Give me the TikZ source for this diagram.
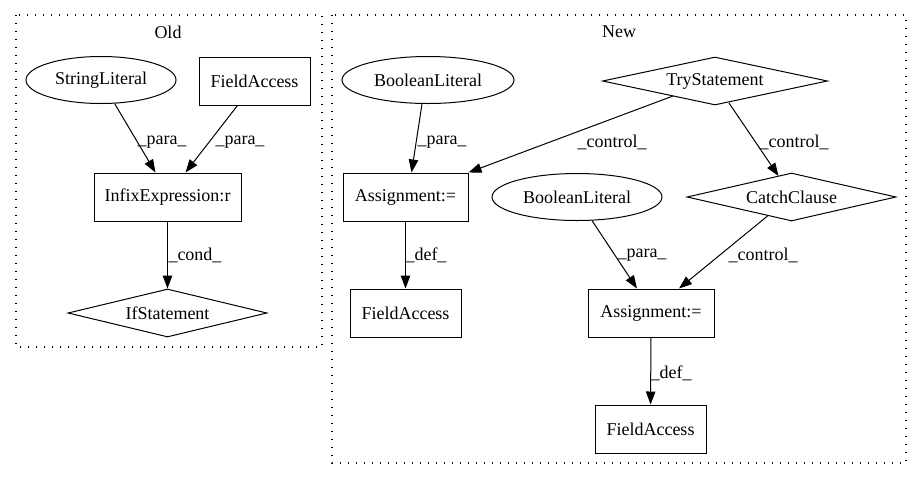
\documentclass[tikz,border=0pt]{standalone}
\usepackage{fontspec}
\setmainfont{Liberation Serif}
\usetikzlibrary{arrows.meta,shapes.geometric}
\begin{document}
\begin{tikzpicture}[x=1pt,y=-1pt,
  every node/.style={font=\fontsize{18}{21}\selectfont},
  box/.style={draw, line width=1pt, rectangle, inner sep=0pt, minimum height=48pt},
  oval/.style={draw, line width=1pt, ellipse, inner sep=0pt, minimum height=47pt},
  cond/.style={draw, line width=1pt, diamond, inner sep=0pt, shape aspect=4.5, minimum height=48pt},
  link/.style={draw, line width=1pt, -{Triangle[length=13pt,width=9.5pt]}},
  lbl/.style={inner sep=0pt},
  cluster/.style={draw, line width=1.2pt, dash pattern=on 1.4pt off 6.6pt}
]
% canvas
\path[fill=white] (0,0) rectangle (921,480);

% ---- Old ----
\draw[cluster] (16,15) rectangle (322,347);
\node (oldlbl) at (168,32) {Old};

\node[oval, minimum width=150pt] (sl) at (101,80) {StringLiteral};
\node[box, minimum width=111pt] (fao) at (254.5,81) {FieldAccess};
\node[box, minimum width=147pt] (ie) at (167.5,197) {InfixExpression:r};
\node[cond, minimum width=199pt] (ifs) at (167.5,313) {IfStatement};

\draw[link] (sl.-60) -- ([xshift=-12pt]ie.north)
  node[lbl, at={(162,142)}] {\_para\_};
\draw[link] ([xshift=-17pt]fao.south) -- ([xshift=18pt]ie.north)
  node[lbl, at={(240,142)}] {\_para\_};
\draw[link] (ie) -- (ifs)
  node[lbl, at={(195,255)}] {\_cond\_};

% ---- New ----
\draw[cluster] (332,15) rectangle (906,463);
\node (newlbl) at (619,32) {New};

\node[oval, minimum width=172pt] (bl1) at (428,80) {BooleanLiteral};
\node[cond, minimum width=225pt] (try) at (715,81) {TryStatement};
\node[box, minimum width=125pt] (as1) at (405.5,197) {Assignment:=};
\node[oval, minimum width=170pt] (bl2) at (577,197) {BooleanLiteral};
\node[cond, minimum width=209pt] (cc) at (791.5,197) {CatchClause};
\node[box, minimum width=111pt] (fa1) at (405.5,313) {FieldAccess};
\node[box, minimum width=126pt] (as2) at (651,313) {Assignment:=};
\node[box, minimum width=111pt] (fa2) at (650.5,429) {FieldAccess};

\draw[link] ([xshift=-6pt]bl1.south) -- ([xshift=6pt]as1.north)
  node[lbl, at={(442,142)}] {\_para\_};
\draw[link] ([shift={(-42,15)}]try.center) -- (as1.north east)
  node[lbl, at={(612,142)}] {\_control\_};
\draw[link] ([shift={(14,22)}]try.center) -- ([shift={(-13,-21)}]cc.center)
  node[lbl, at={(794,142)}] {\_control\_};
\draw[link] (as1) -- (fa1)
  node[lbl, at={(426,255)}] {\_def\_};
\draw[link] ([shift={(15,23.6)}]bl2.center) -- ([xshift=-14pt]as2.north)
  node[lbl, at={(642,255)}] {\_para\_};
\draw[link] ([shift={(-24,19)}]cc.center) -- ([xshift=28pt]as2.north)
  node[lbl, at={(763,255)}] {\_control\_};
\draw[link] (as2) -- (fa2)
  node[lbl, at={(671,373)}] {\_def\_};
\end{tikzpicture}
\end{document}
